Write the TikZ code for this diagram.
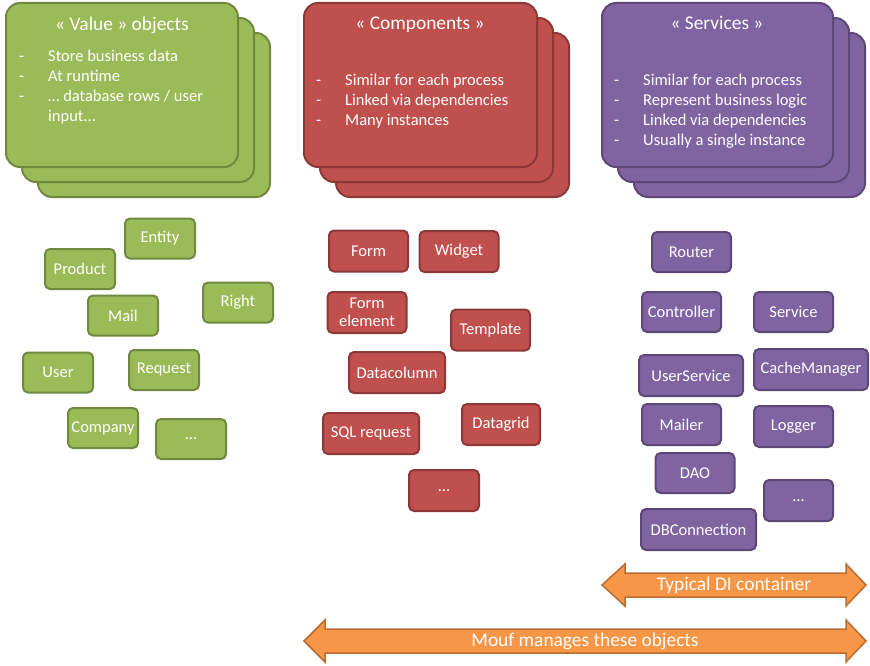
\documentclass[tikz,border=0pt]{standalone}
\usepackage{fontspec}
\setmainfont{Carlito}
\definecolor{gfill}{HTML}{9BBB59}
\definecolor{gline}{HTML}{71893F}
\definecolor{rfill}{HTML}{C0504D}
\definecolor{rline}{HTML}{8C3836}
\definecolor{pfill}{HTML}{8064A2}
\definecolor{pline}{HTML}{5C4776}
\definecolor{ofill}{HTML}{F79646}
\definecolor{oline}{HTML}{B66D31}
\tikzset{
  card/.style={line width=2pt, rounded corners=14pt},
  gcard/.style={card, draw=gline, fill=gfill},
  rcard/.style={card, draw=rline, fill=rfill},
  pcard/.style={card, draw=pline, fill=pfill},
  ttl/.style={text=white, anchor=base, inner sep=0pt, font=\fontsize{19.4}{23}\selectfont},
  bul/.style={text=white, anchor=base west, inner sep=0pt, font=\fontsize{16.5}{20}\selectfont},
  sbox/.style={line width=2pt, rounded corners=5pt, text=white, inner sep=1pt, align=center,
    minimum width=70pt, minimum height=40pt, font=\fontsize{16.5}{20}\selectfont},
  gbox/.style={sbox, draw=gline, fill=gfill},
  rbox/.style={sbox, draw=rline, fill=rfill, minimum width=79pt, minimum height=41pt},
  pbox/.style={sbox, draw=pline, fill=pfill, minimum width=79pt, minimum height=40pt},
  darrow/.style={draw=oline, fill=ofill, line width=1.5pt, line join=miter},
  atext/.style={text=white, inner sep=0pt, font=\fontsize{19.4}{23}\selectfont}
}
\newcommand{\bl}[1]{\makebox[29pt][l]{-}#1}
\begin{document}
\begin{tikzpicture}[x=1pt,y=-1pt]
\useasboundingbox (0,0) rectangle (870,666);
% green stack
\draw[gcard] (38,33) rectangle (270,197);
\draw[gcard] (22,18) rectangle (254,182);
\draw[gcard] (6,3) rectangle (238,167);
\node[ttl] (gt) at (122,31) {« Value » objects};
\node[bul] (g1) at (19,62) {\bl{Store business data}};
\node[bul] (g2) at (19,82) {\bl{At runtime}};
\node[bul] (g3) at (19,102) {\bl{… database rows / user}};
\node[bul] (g4) at (48,122) {input...};
% red stack
\draw[rcard] (336,33) rectangle (569,197);
\draw[rcard] (320,18) rectangle (553,182);
\draw[rcard] (304,3) rectangle (537,167);
\node[ttl] (rt) at (420,30) {« Components »};
\node[bul] (r1) at (316,86) {\bl{Similar for each process}};
\node[bul] (r2) at (316,106) {\bl{Linked via dependencies}};
\node[bul] (r3) at (316,126) {\bl{Many instances}};
% purple stack
\draw[pcard] (634,33) rectangle (865,197);
\draw[pcard] (618,18) rectangle (849,182);
\draw[pcard] (602,3) rectangle (833,167);
\node[ttl] (pt) at (717,30) {« Services »};
\node[bul] (p1) at (614,86) {\bl{Similar for each process}};
\node[bul] (p2) at (614,106) {\bl{Represent business logic}};
\node[bul] (p3) at (614,126) {\bl{Linked via dependencies}};
\node[bul] (p4) at (614,146) {\bl{Usually a single instance}};
% green boxes
\node[gbox] (entity) at (160,238.5) {Entity};
\node[gbox] (product) at (80,269) {Product};
\node[gbox] (right) at (238,302.5) {Right};
\node[gbox] (mail) at (123,315.5) {Mail};
\node[gbox] (user) at (58,372.5) {User};
\node[gbox] (request) at (164,370) {Request};
\node[gbox] (company) at (103,428) {Company};
\node[gbox] (gdots) at (191,439) {…};
% red boxes
\node[rbox] (form) at (368.5,251) {Form};
\node[rbox] (widget) at (459,251.5) {Widget};
\node[rbox] (formel) at (367,312.5) {Form\\[-2pt]element};
\node[rbox] (template) at (490.5,330) {Template};
\node[rbox, minimum width=96pt] (datacol) at (397,372.5) {Datacolumn};
\node[rbox, minimum width=96pt] (sql) at (371,433.5) {SQL request};
\node[rbox, minimum width=78pt] (datagrid) at (501,424.5) {Datagrid};
\node[rbox, minimum width=70pt] (rdots) at (444,490.5) {…};
% purple boxes
\node[pbox] (router) at (691.5,252) {Router};
\node[pbox] (controller) at (681.5,312) {Controller};
\node[pbox] (service) at (793.5,312) {Service};
\node[pbox, minimum width=104pt, minimum height=41pt] (userservice) at (691,375.5) {UserService};
\node[pbox, minimum width=114pt, minimum height=41pt] (cache) at (811,369.5) {CacheManager};
\node[pbox, minimum height=41pt] (mailer) at (681.5,424.5) {Mailer};
\node[pbox, minimum height=41pt] (logger) at (793.5,426.5) {Logger};
\node[pbox] (dao) at (695,473) {DAO};
\node[pbox, minimum width=69pt, minimum height=41pt] (pdots) at (798.5,500.5) {…};
\node[pbox, minimum width=115pt, minimum height=41pt] (dbconn) at (698.5,529.5) {DBConnection};
% arrows
\draw[darrow] (602,585) -- (625,564) -- (625,573) -- (846,573) -- (846,564) -- (866,585)
  -- (846,606) -- (846,597) -- (625,597) -- (625,606) -- cycle;
\node[atext] (di) at (734,585) {Typical DI container};
\draw[darrow] (304,641) -- (325,620) -- (325,629) -- (846,629) -- (846,620) -- (866,641)
  -- (846,662) -- (846,653) -- (325,653) -- (325,662) -- cycle;
\node[atext] (mouf) at (585,641) {Mouf manages these objects};
\end{tikzpicture}
\end{document}
